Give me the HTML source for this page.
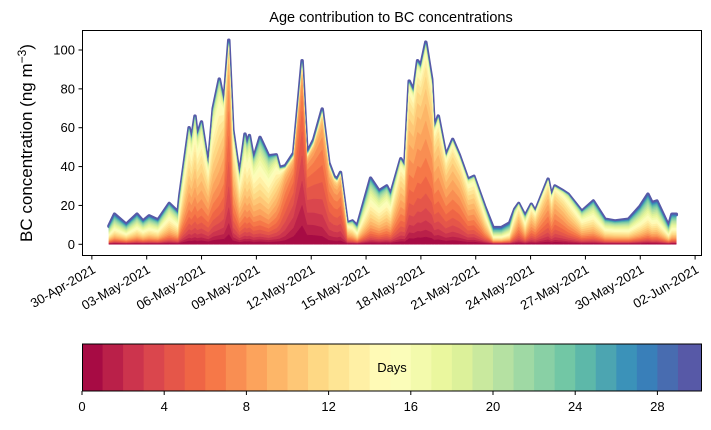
<!DOCTYPE html>
<html><head><meta charset="utf-8"><style>
body{margin:0;background:#fff;width:711px;height:425px;overflow:hidden}
svg text{font-family:"Liberation Sans","DejaVu Sans",sans-serif;fill:#000}
</style></head><body>
<svg id="chart" width="711" height="425" xmlns="http://www.w3.org/2000/svg">
<text x="391" y="22" font-size="14.5" text-anchor="middle">Age contribution to BC concentrations</text>
<g id="areas"></g>
<rect x="82.5" y="30.5" width="619" height="225" fill="none" stroke="#000" stroke-width="1"/>
<g id="yaxis"></g>
<g id="xaxis"></g>
<text transform="translate(32,143) rotate(-90)" font-size="17" text-anchor="middle">BC concentration (ng m<tspan dy="-6" font-size="12">−3</tspan><tspan dy="6">)</tspan></text>
<g id="cbar"></g>
</svg>
<script>
const days=[0.93,1.24,1.88,2.47,2.8,3.13,3.62,4.23,4.72,4.81,5.32,5.45,5.64,5.76,6.0,6.37,6.64,6.97,7.23,7.49,7.71,8.07,8.38,8.48,8.62,8.84,9.2,9.67,10.09,10.27,10.58,11.04,11.5,11.77,12.14,12.6,12.96,13.24,13.42,13.6,13.97,14.25,14.52,15.25,15.71,16.13,16.35,16.9,17.12,17.36,17.6,17.82,18.0,18.27,18.59,18.73,18.95,19.37,19.74,20.1,20.57,20.9,21.48,21.95,22.4,22.86,23.13,23.35,23.7,24.04,24.26,24.96,25.14,25.33,25.79,26.06,26.8,27.43,28.07,28.62,29.36,30.0,30.42,30.64,30.91,31.55,31.73,31.97];
const totals=[9.4,15.5,10.3,15.5,12,14.6,12.5,21,16.6,25,60,54,66,56,63,40,70,85,73,105,59,35,56.7,51.5,56,44,55,45.5,46,39.5,40.4,47,94.5,47,54,69.6,42,35,33.5,37,11,12,9.4,34,27.5,30,25.8,44,40.4,84,79,94.5,92,104,85,60,66,45.5,54,46,33.5,35,19.7,8.6,8.6,11,18,21,14.6,20.6,17,33.5,25,30,27.5,25.8,17,22.3,12.9,12,12.9,19.7,25.8,21.5,22.3,9.4,15.5,15.5];
const meanAge=[15,15,15,14,14,14,14,12,13,11,9,9,9,9,9,8,9,9,7,5,8,9,10,10,10,10,11,11,9,7,5,3.5,3,3,3.5,4.5,5,5,5,5,9,11,13,12,12,11,11,8,8,7,7,7,7,7,7,7,7,7,7,7,8,8,10,18,18,16,10,8,11,8,8,7,8,7,8,9,11,12,13,13,14,14,14,14,14,15,15,15];
const yTicks=[0,20,40,60,80,100];
const xTickDays=[0,3,6,9,12,15,18,21,24,27,30,33];
const xTickLabels=["30-Apr-2021","03-May-2021","06-May-2021","09-May-2021","12-May-2021","15-May-2021","18-May-2021","21-May-2021","24-May-2021","27-May-2021","30-May-2021","02-Jun-2021"];
const cbTicks=[0,4,8,12,16,20,24,28];
const NL=30;
const X=d=>146.7+(d-3)*18.28;
const Y=v=>244.3-v*1.943;
const CB=v=>82+v*20.55;
const NS="http://www.w3.org/2000/svg";
const stops=["#9e0142","#d53e4f","#f46d43","#fdae61","#fee08b","#ffffbf","#e6f598","#abdda4","#66c2a5","#3288bd","#5e4fa2"];
function hx(c){return [1,3,5].map(i=>parseInt(c.substr(i,2),16));}
function spectral(t){const p=t*10,i=Math.min(9,Math.floor(p)),f=p-i,a=hx(stops[i]),b=hx(stops[i+1]);
return "rgb("+a.map((v,j)=>Math.round(v+(b[j]-v)*f)).join(",")+")";}
function el(tag,attrs,parent){const e=document.createElementNS(NS,tag);for(const k in attrs)e.setAttribute(k,attrs[k]);parent.appendChild(e);return e;}
const cum=days.map((d,i)=>{const m=meanAge[i],s=Math.max(3,m*0.6);let w=[];
for(let k=0;k<NL;k++)w.push(Math.exp(-0.5*((k-m)/s)**2)+0.022+(k==0?0.12:0));
const sum=w.reduce((a,b)=>a+b,0);let c=[0];for(let k=0;k<NL;k++)c.push(c[k]+totals[i]*w[k]/sum);return c;});
const areas=document.getElementById("areas");
for(let k=NL-1;k>=0;k--){
 let up=days.map((d,i)=>X(d).toFixed(1)+","+Y(cum[i][k+1]).toFixed(1));
 let lo=days.map((d,i)=>X(d).toFixed(1)+","+Y(cum[i][k]).toFixed(1)).reverse();
 const col=spectral((k+0.5)/NL);
 const p=el("polygon",{points:up.concat(lo).join(" "),fill:col,stroke:col,"stroke-width":k==NL-1?"3.5":"0.5","stroke-linejoin":"round"},areas);
 
 
}
const ya=document.getElementById("yaxis");
yTicks.forEach(v=>{el("line",{x1:78.5,x2:82.5,y1:Y(v),y2:Y(v),stroke:"#000"},ya);
 const t=el("text",{x:75,y:Y(v)+4.5,"font-size":"13","text-anchor":"end"},ya);t.textContent=v;
 
 });
const xa=document.getElementById("xaxis");
xTickDays.forEach((d,i)=>{const x=X(d);el("line",{x1:x,x2:x,y1:255.5,y2:259.5,stroke:"#000"},xa);
 const t=el("text",{transform:"translate("+(x+4.5)+",272) rotate(-30)","font-size":"13","text-anchor":"end"},xa);t.textContent=xTickLabels[i];
 
 });
const cb=document.getElementById("cbar");
for(let k=0;k<NL;k++){const x0=CB(k),x1=k==NL-1?701.5:CB(k+1);
 const r=el("rect",{x:x0,y:344,width:x1-x0+0.5,height:47,fill:spectral((k+0.5)/NL)},cb);
 
 }
el("rect",{x:82.5,y:344,width:619,height:47,fill:"none",stroke:"#000"},cb);
const dl=el("text",{x:392,y:372,"font-size":"13","text-anchor":"middle"},cb);dl.textContent="Days";


cbTicks.forEach(v=>{const x=CB(v);el("line",{x1:x,x2:x,y1:391,y2:395,stroke:"#000"},cb);
 const t=el("text",{x:x,y:411,"font-size":"13","text-anchor":"middle"},cb);t.textContent=v;
 
 });
</script>
</body></html>
